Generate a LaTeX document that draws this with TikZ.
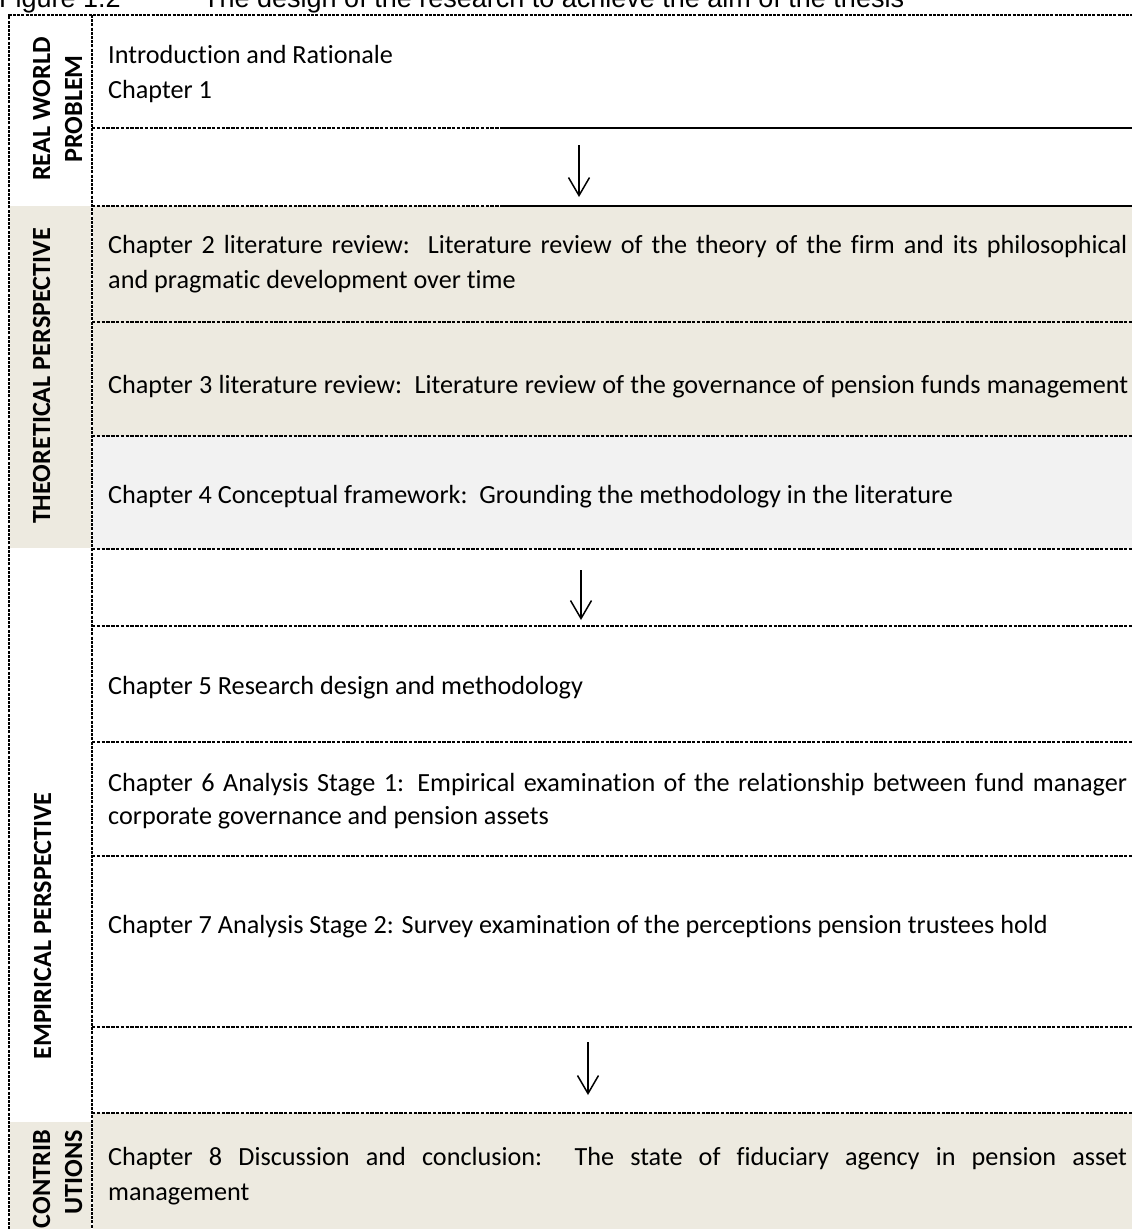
\documentclass[tikz,border=0pt]{standalone}
\usepackage{fontspec}
\setmainfont{Carlito}[Ligatures={NoCommon,NoContextual,NoRequired}]
\newfontfamily\capfont{Liberation Sans}
\usetikzlibrary{arrows.meta}
\definecolor{beige}{RGB}{237,234,224}
\definecolor{lgray}{RGB}{242,242,242}
\begin{document}
\begin{tikzpicture}[x=1pt,y=-1pt,
  body/.style={font=\fontsize{26.2}{32}\selectfont, anchor=base west, inner sep=0pt},
  lbl/.style={font=\fontsize{26.2}{32}\selectfont\bfseries, rotate=90, inner sep=0pt},
  captext/.style={font=\capfont\fontsize{27}{30}\selectfont, anchor=base west, inner sep=0pt},
  rowline/.style={line width=1.4pt, dash pattern=on 3.3pt off 1.5pt},
  solidline/.style={line width=1.6pt},
  frameline/.style={line width=2.3pt, dash pattern=on 3pt off 1.2pt},
  arr/.style={line width=1.5pt, -{Straight Barb[length=18pt,width=21pt,line width=1.5pt]}}]
\useasboundingbox (0,0) rectangle (1132,1229);
% fills
\fill[beige] (10,206) rectangle (91,548);
\fill[beige] (10,1122) rectangle (91,1229);
\fill[beige] (93,206) rectangle (1132,436);
\fill[lgray] (93,436) rectangle (1132,549);
\fill[beige] (93,1113) rectangle (1132,1229);
% row lines
\draw[rowline] (92,128) -- (500,128);
\draw[solidline] (500,128) -- (1132,128);
\draw[rowline] (92,206) -- (500,206);
\draw[solidline] (500,206) -- (1132,206);
\foreach \yy in {322,436,549,626,742,856,1027,1113}
  \draw[rowline] (92,\yy) -- (1132,\yy);
% frame
\draw[frameline] (9,1229) -- (9,15) -- (1132,15);
\draw[frameline] (92,15) -- (92,1229);
% caption
\node[captext] (fig) at (-1,7.5) {Figure 1.2};
\node[captext] (title) at (203,7.5) {The design of the research to achieve the aim of the thesis};
% left labels
\node[lbl, anchor=base] (rw1) at (50,109) {REAL WORLD};
\node[lbl, anchor=base] (rw2) at (82,109) {PROBLEM};
\node[lbl, anchor=base] (theo) at (50,376) {THEORETICAL PERSPECTIVE};
\node[lbl, anchor=base] (emp) at (51,926) {EMPIRICAL PERSPECTIVE};
\node[lbl, anchor=base east] (con1) at (50,1130) {CONTRIB};
\node[lbl, anchor=base east] (con2) at (82,1130) {UTIONS};
% body texts
\node[body] (intro) at (108,63) {Introduction and Rationale};
\node[body] (ch1) at (108,98) {Chapter 1};
\node[body] (ch2a) at (108,253) {\makebox[1019pt][s]{Chapter 2 literature review:\ \ Literature review of the theory of the firm and its philosophical}};
\node[body] (ch2b) at (108,288) {and pragmatic development over time};
\node[body] (ch3) at (108,393) {\makebox[1020pt][s]{Chapter 3 literature review:\ \ Literature review of the governance of pension funds management}};
\node[body] (ch4) at (108,503) {Chapter 4 Conceptual framework:\ \ Grounding the methodology in the literature};
\node[body] (ch5) at (108,694) {Chapter 5 Research design and methodology};
\node[body] (ch6a) at (108,791) {\makebox[1019pt][s]{Chapter 6 Analysis Stage 1: Empirical examination of the relationship between fund manager}};
\node[body] (ch6b) at (108,824) {corporate governance and pension assets};
\node[body] (ch7) at (108,933) {Chapter 7 Analysis Stage 2: Survey examination of the perceptions pension trustees hold};
\node[body] (ch8a) at (108,1165) {\makebox[1019pt][s]{Chapter 8 Discussion and conclusion:\ \ The state of fiduciary agency in pension asset}};
\node[body] (ch8b) at (108,1200) {management};
% arrows
\coordinate (a1s) at (579,145);
\coordinate (a1e) at (579,197);
\coordinate (a2s) at (581,570);
\coordinate (a2e) at (581,620);
\coordinate (a3s) at (588,1042);
\coordinate (a3e) at (588,1095);
\draw[arr] (a1s) -- (a1e);
\draw[arr] (a2s) -- (a2e);
\draw[arr] (a3s) -- (a3e);
\end{tikzpicture}
\end{document}
